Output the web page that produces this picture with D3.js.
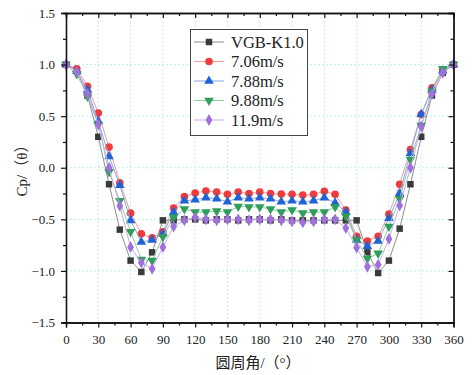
<!DOCTYPE html>
<html>
<head>
<meta charset="utf-8">
<script src="https://cdn.jsdelivr.net/npm/d3@7/dist/d3.min.js"></script>
<style>
  html, body { margin: 0; padding: 0; background: #fff; }
  svg { display: block; }
  .tick text { font-family: "Liberation Serif", "Times New Roman", serif; font-size: 13px; fill: #222; }
</style>
</head>
<body>
<svg id="chart" width="476" height="375"></svg>
<script>
// Circumferential angle (degrees), sampled every 10°
const angles = d3.range(0, 361, 10);

// Pressure coefficient Cp at each angle, one array per series
const cpVGB = [1.0, 0.95, 0.70, 0.30, -0.16, -0.60, -0.90, -1.01, -0.82, -0.51,
  -0.51, -0.50, -0.50, -0.51, -0.50, -0.50, -0.51, -0.50, -0.50, -0.51,
  -0.50, -0.51, -0.51, -0.51, -0.51, -0.51, -0.51, -0.51, -0.82, -1.02,
  -0.90, -0.59, -0.16, 0.30, 0.70, 0.92, 1.0];
const cp706 = [1.0, 0.96, 0.79, 0.53, 0.20, -0.145, -0.44, -0.64, -0.68, -0.62,
  -0.39, -0.28, -0.245, -0.225, -0.235, -0.258, -0.236, -0.25, -0.236, -0.25,
  -0.255, -0.258, -0.265, -0.258, -0.228, -0.258, -0.41, -0.665, -0.71, -0.665,
  -0.45, -0.16, 0.175, 0.515, 0.775, 0.95, 1.0];
const cp788 = [1.0, 0.935, 0.755, 0.45, 0.11, -0.17, -0.51, -0.72, -0.70, -0.64,
  -0.43, -0.32, -0.31, -0.29, -0.30, -0.33, -0.29, -0.30, -0.29, -0.30,
  -0.33, -0.32, -0.33, -0.32, -0.29, -0.34, -0.43, -0.70, -0.76, -0.71,
  -0.49, -0.25, 0.14, 0.52, 0.755, 0.94, 1.0];
const cp988 = [1.0, 0.91, 0.69, 0.42, -0.04, -0.32, -0.62, -0.89, -0.90, -0.67,
  -0.48, -0.40, -0.43, -0.43, -0.42, -0.43, -0.375, -0.38, -0.38, -0.40,
  -0.43, -0.41, -0.44, -0.43, -0.43, -0.38, -0.47, -0.70, -0.88, -0.83,
  -0.57, -0.30, 0.08, 0.41, 0.74, 0.96, 1.0];
const cp119 = [1.0, 0.93, 0.715, 0.42, 0.0, -0.37, -0.77, -0.92, -0.98, -0.77,
  -0.57, -0.51, -0.48, -0.50, -0.51, -0.50, -0.50, -0.51, -0.50, -0.50,
  -0.51, -0.52, -0.53, -0.52, -0.50, -0.50, -0.585, -0.775, -0.96, -0.94,
  -0.69, -0.365, 0.0, 0.40, 0.715, 0.92, 1.0];

const seriesNames = ["VGB-K1.0", "7.06m/s", "7.88m/s", "9.88m/s", "11.9m/s"];
const seriesValues = [cpVGB, cp706, cp788, cp988, cp119];

const xTicks = d3.range(0, 361, 30);
const yTicks = [-1.5, -1.0, -0.5, 0.0, 0.5, 1.0, 1.5];

// Per-series styling: marker colour, line colour, symbol
const styles = [
  { fill: "#3a3a3a", line: "#8c8c8c", symbol: d3.symbolSquare, size: 42, rot: 0 },
  { fill: "#ee3b3b", line: "#f39a9a", symbol: d3.symbolCircle, size: 46, rot: 0 },
  { fill: "#1f63d6", line: "#86a8e6", symbol: d3.symbolTriangle, size: 40, rot: 0 },
  { fill: "#2e9e5a", line: "#8fcda6", symbol: d3.symbolTriangle, size: 40, rot: 180 },
  { fill: "#a070dc", line: "#c9aaee", symbol: d3.symbolDiamond, size: 40, rot: 0 }
];

const svg = d3.select("#chart");
const plotL = 66, plotR = 453.5, plotT = 13, plotB = 322.5;

const x = d3.scaleLinear().domain([0, 360]).range([plotL, plotR]);
const y = d3.scaleLinear().domain([-1.5, 1.5]).range([plotB, plotT]);

// Dotted grid at major ticks
const grid = svg.append("g");
grid.selectAll("line.v").data(xTicks.filter(d => d > 0 && d < 360)).join("line")
  .attr("class", "v")
  .attr("x1", d => x(d)).attr("x2", d => x(d)).attr("y1", plotT).attr("y2", plotB)
  .attr("stroke", "#bdeef6").attr("stroke-width", 1).attr("stroke-dasharray", "2,2");
grid.selectAll("line.h").data(yTicks.filter(d => d > -1.5 && d < 1.5)).join("line")
  .attr("class", "h")
  .attr("y1", d => y(d)).attr("y2", d => y(d)).attr("x1", plotL).attr("x2", plotR)
  .attr("stroke", "#bdeef6").attr("stroke-width", 1).attr("stroke-dasharray", "2,2");

// Series lines and markers (later series drawn on top)
const line = d3.line().x((d, i) => x(angles[i])).y(d => y(d));
seriesValues.forEach((vals, k) => {
  const st = styles[k];
  svg.append("path").datum(vals).attr("d", line)
    .attr("fill", "none").attr("stroke", st.line).attr("stroke-width", 1);
  const sym = d3.symbol().type(st.symbol).size(st.size);
  svg.append("g").selectAll("path").data(vals).join("path")
    .attr("d", sym)
    .attr("transform", (d, i) => `translate(${x(angles[i])},${y(d)}) rotate(${st.rot})`)
    .attr("fill", st.fill);
});

// Axes: outward ticks on left/bottom, inward on top/right
const minorX = d3.range(15, 360, 30);
const minorY = d3.range(-1.25, 1.3, 0.5);
function styleAxis(g) {
  g.select(".domain").attr("stroke", "#111").attr("stroke-width", 1.3);
  g.selectAll(".tick line").attr("stroke", "#111").attr("stroke-width", 1.2);
}
function addAxis(axis, tx, ty) {
  svg.append("g").attr("transform", `translate(${tx},${ty})`).call(axis).call(styleAxis);
}
addAxis(d3.axisBottom(x).tickValues(minorX).tickSize(3).tickFormat(""), 0, plotB);
addAxis(d3.axisBottom(x).tickValues(xTicks).tickSize(5).tickPadding(7).tickFormat(d3.format("d")), 0, plotB);
addAxis(d3.axisLeft(y).tickValues(minorY).tickSize(3).tickFormat(""), plotL, 0);
addAxis(d3.axisLeft(y).tickValues(yTicks).tickSize(5).tickPadding(6).tickFormat(d3.format(".1f")), plotL, 0);
addAxis(d3.axisTop(x).tickValues(minorX).tickSize(-3).tickFormat(""), 0, plotT);
addAxis(d3.axisTop(x).tickValues(xTicks).tickSize(-5).tickFormat(""), 0, plotT);
addAxis(d3.axisRight(y).tickValues(minorY).tickSize(-3).tickFormat(""), plotR, 0);
addAxis(d3.axisRight(y).tickValues(yTicks).tickSize(-5).tickFormat(""), plotR, 0);

// Axis titles
const titleFont = '"Liberation Serif", "Noto Sans CJK SC", serif';
svg.append("text").attr("x", 258).attr("y", 368)
  .attr("text-anchor", "middle").attr("font-family", titleFont).attr("font-size", 15)
  .attr("fill", "#222").text("圆周角/（°）");
svg.append("text").attr("transform", "translate(27,167) rotate(-90)")
  .attr("text-anchor", "middle").attr("font-family", titleFont).attr("font-size", 15)
  .attr("fill", "#222").text("Cp/（θ）");

// Legend
const lg = svg.append("g");
lg.append("rect").attr("x", 190.5).attr("y", 29.5).attr("width", 117).attr("height", 106)
  .attr("fill", "#fff").attr("stroke", "#444").attr("stroke-width", 1);
seriesNames.forEach((name, k) => {
  const st = styles[k];
  const ry = 42 + k * 19.5;
  lg.append("line").attr("x1", 194).attr("x2", 224).attr("y1", ry).attr("y2", ry)
    .attr("stroke", st.line).attr("stroke-width", 1);
  lg.append("path").attr("d", d3.symbol().type(st.symbol).size(st.size)())
    .attr("transform", `translate(209,${ry}) rotate(${st.rot})`).attr("fill", st.fill);
  lg.append("text").attr("x", 231).attr("y", ry + 5.5)
    .attr("font-family", '"Liberation Serif", serif').attr("font-size", 16.5)
    .attr("fill", "#222").text(name);
});
</script>
</body>
</html>
